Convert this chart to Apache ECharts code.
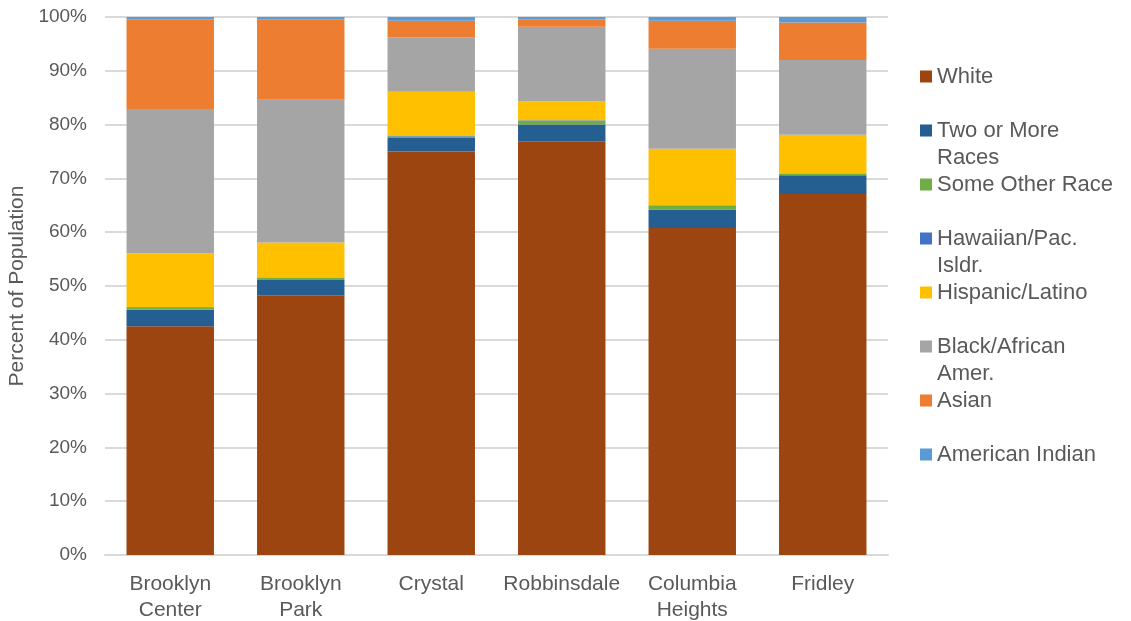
<!DOCTYPE html>
<html>
<head>
<meta charset="utf-8">
<script src="https://cdn.jsdelivr.net/npm/echarts@6/dist/echarts.min.js"></script>
<style>
  html, body { margin: 0; padding: 0; background: #fff; }
  #chart { width: 1131px; height: 621px; }
</style>
</head>
<body>
<div id="chart"></div>
<script>
var cities = ['Brooklyn Center', 'Brooklyn Park', 'Crystal', 'Robbinsdale', 'Columbia Heights', 'Fridley'];
var yTicks = ['0%', '10%', '20%', '30%', '40%', '50%', '60%', '70%', '80%', '90%', '100%'];

// percent of population, stacked bottom to top
var white         = [42.5, 48.3, 75.0, 76.9, 60.8, 67.1];
var twoOrMore     = [3.1, 2.8, 2.5, 3.1, 3.4, 3.5];
var someOther     = [0.4, 0.4, 0.3, 0.7, 0.7, 0.2];
var hawaiian      = [0.1, 0.1, 0.1, 0.1, 0.1, 0.1];
var hispanic      = [10.0, 6.5, 8.2, 3.5, 10.5, 7.2];
var black         = [26.8, 26.5, 10.1, 13.9, 18.6, 13.9];
var asian         = [16.7, 15.0, 3.1, 1.4, 5.2, 7.0];
var amIndian      = [0.4, 0.4, 0.7, 0.4, 0.7, 1.0];

var names  = ['White', 'Two or More Races', 'Some Other Race', 'Hawaiian/Pac. Isldr.', 'Hispanic/Latino', 'Black/African Amer.', 'Asian', 'American Indian'];
var labels = ['White', 'Two or More\nRaces', 'Some Other Race', 'Hawaiian/Pac.\nIsldr.', 'Hispanic/Latino', 'Black/African\nAmer.', 'Asian', 'American Indian'];
var values = [white, twoOrMore, someOther, hawaiian, hispanic, black, asian, amIndian];
var colors = ['#9c4510', '#255e91', '#70ad47', '#4472c4', '#ffc000', '#a5a5a5', '#ed7d31', '#5b9bd5'];

// square icon pinned to the top of a 2-line legend slot
var topSquare = 'path://M0,0L12,0L12,12L0,12Z M0,39L0.01,39';

var series = names.map(function (n, i) {
    return {
        name: n,
        type: 'bar',
        stack: 'pop',
        barCategoryGap: '33%',
        itemStyle: { color: colors[i] },
        data: values[i]
    };
});

var myChart = echarts.init(document.getElementById('chart'));
var option = {
    animation: false,
    textStyle: { fontFamily: 'Liberation Sans, Arial, sans-serif' },
    grid: { left: 105, right: 243, top: 17, bottom: 66, outerBoundsMode: 'none' },
    legend: {
        orient: 'vertical',
        left: 915,
        top: 58,
        itemGap: 0,
        itemWidth: 12,
        itemHeight: 39,
        icon: topSquare,
        data: names,
        formatter: function (n) {
            var l = labels[names.indexOf(n)];
            return l.indexOf('\n') < 0 ? l + '\n ' : l;
        },
        textStyle: { fontSize: 22, color: '#595959', lineHeight: 27 }
    },
    xAxis: {
        type: 'category',
        data: cities,
        axisTick: { show: false },
        axisLine: { lineStyle: { color: '#d9d9d9', width: 2 } },
        axisLabel: {
            interval: 0,
            fontSize: 21,
            color: '#595959',
            lineHeight: 26,
            margin: 16,
            formatter: function (v) { return v.replace(' ', '\n'); }
        }
    },
    yAxis: {
        type: 'value',
        min: 0,
        max: 100,
        interval: 10,
        name: 'Percent of Population',
        nameLocation: 'middle',
        nameGap: 73,
        nameTextStyle: { fontSize: 21, color: '#595959' },
        axisLabel: {
            fontSize: 19,
            color: '#595959',
            margin: 18,
            formatter: function (v) { return yTicks[Math.round(v / 10)]; }
        },
        splitLine: { lineStyle: { color: '#d9d9d9', width: 2 } }
    },
    series: series
};
myChart.setOption(option);
window.onresize = myChart.resize;
</script>
</body>
</html>
